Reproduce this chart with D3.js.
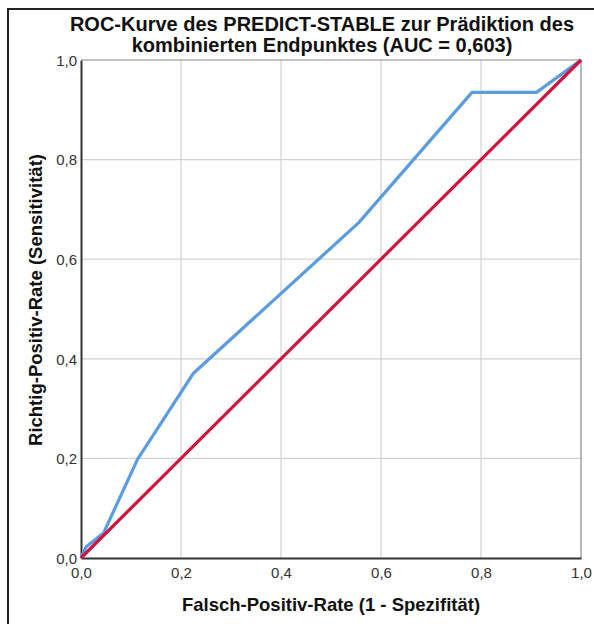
<!DOCTYPE html>
<html>
<head>
<meta charset="utf-8">
<script src="https://cdn.jsdelivr.net/npm/d3@7"></script>
<style>
	body { margin: 0; background: #fff; }
	svg { display: block; font-family: "Liberation Sans", Arial, sans-serif; }
</style>
</head>
<body>
<div id="chart"></div>
<script>
// ROC curve points
var fpr = [0, 0.01, 0.045, 0.113, 0.225, 0.555, 0.782, 0.911, 1];
var tpr = [0, 0.022, 0.05, 0.198, 0.371, 0.673, 0.935, 0.935, 1];
var refLine = [0, 1];
var ticks = [0, 0.2, 0.4, 0.6, 0.8, 1];

var titleLines = ["ROC-Kurve des PREDICT-STABLE zur Prädiktion des", "kombinierten Endpunktes (AUC = 0,603)"];
var xTitle = "Falsch-Positiv-Rate (1 - Spezifität)";
var yTitle = "Richtig-Positiv-Rate (Sensitivität)";

function renderChart() {
	var W = 594, H = 624;
	var margin = { top: 60, right: 13, bottom: 66, left: 81 },
		width = W - margin.left - margin.right,
		height = H - margin.top - margin.bottom;

	var svg = d3.select("#chart")
		.append("svg")
		.attr("width", W)
		.attr("height", H);

	// outer frame (cut off at right and bottom)
	svg.append("rect")
		.attr("x", 8).attr("y", 9)
		.attr("width", 620).attr("height", 640)
		.attr("fill", "none")
		.attr("stroke", "#222")
		.attr("stroke-width", 2);

	var g = svg.append("g")
		.attr("transform", "translate(" + margin.left + "," + margin.top + ")");

	var x = d3.scaleLinear().domain([0, 1]).range([0, width]);
	var y = d3.scaleLinear().domain([0, 1]).range([height, 0]);

	var fmt = function (d) { return d3.format(".1f")(d).replace(".", ","); };

	// grid
	g.selectAll("line.vgrid")
		.data(ticks.slice(1, -1))
		.enter().append("line")
		.attr("class", "vgrid")
		.attr("x1", function (d) { return x(d); })
		.attr("x2", function (d) { return x(d); })
		.attr("y1", 0).attr("y2", height)
		.attr("stroke", "#d2d2d2").attr("stroke-width", 1.2);

	g.selectAll("line.hgrid")
		.data(ticks.slice(1, -1))
		.enter().append("line")
		.attr("class", "hgrid")
		.attr("y1", function (d) { return y(d); })
		.attr("y2", function (d) { return y(d); })
		.attr("x1", 0).attr("x2", width)
		.attr("stroke", "#d2d2d2").attr("stroke-width", 1.2);

	// top/right border
	g.append("path")
		.attr("d", "M0,0H" + width + "V" + height)
		.attr("fill", "none")
		.attr("stroke", "#8a8a8a")
		.attr("stroke-width", 1.2);

	// axes
	var xAxis = g.append("g")
		.attr("transform", "translate(0," + height + ")")
		.call(d3.axisBottom(x).tickValues(ticks).tickFormat(fmt).tickSize(0).tickPadding(9));
	var yAxis = g.append("g")
		.call(d3.axisLeft(y).tickValues(ticks).tickFormat(fmt).tickSize(0).tickPadding(4));

	[xAxis, yAxis].forEach(function (a) {
		a.select(".domain").attr("stroke", "#333").attr("stroke-width", 2);
		a.selectAll("text")
			.style("font-size", "15px")
			.style("font-family", "'Liberation Sans', Arial, sans-serif")
			.attr("fill", "#333");
	});
	yAxis.selectAll("text").attr("dy", "0.35em");

	// reference diagonal
	var line = d3.line()
		.x(function (d) { return x(d[0]); })
		.y(function (d) { return y(d[1]); });

	// ROC curve
	g.append("path")
		.datum(fpr.map(function (d, i) { return [d, tpr[i]]; }))
		.attr("d", line)
		.attr("fill", "none")
		.attr("stroke", "#5b9be0")
		.attr("stroke-width", 3.2)
		.attr("stroke-linejoin", "round");

	g.append("path")
		.datum(refLine.map(function (d) { return [d, d]; }))
		.attr("d", line)
		.attr("fill", "none")
		.attr("stroke", "#d0123c")
		.attr("stroke-width", 3.2);

	// titles
	svg.selectAll("text.title")
		.data(titleLines)
		.enter().append("text")
		.attr("class", "title")
		.attr("x", 322)
		.attr("y", function (d, i) { return 31 + i * 21; })
		.attr("text-anchor", "middle")
		.style("font-size", "20px")
		.style("font-weight", "bold")
		.attr("fill", "#111")
		.text(function (d) { return d; });

	svg.append("text")
		.attr("x", 331)
		.attr("y", 611)
		.attr("text-anchor", "middle")
		.style("font-size", "18.5px")
		.style("font-weight", "bold")
		.attr("fill", "#111")
		.text(xTitle);

	svg.append("text")
		.attr("transform", "translate(42," + 300 + ") rotate(-90)")
		.attr("text-anchor", "middle")
		.style("font-size", "18.5px")
		.style("font-weight", "bold")
		.attr("fill", "#111")
		.text(yTitle);
}

renderChart();
</script>
</body>
</html>
